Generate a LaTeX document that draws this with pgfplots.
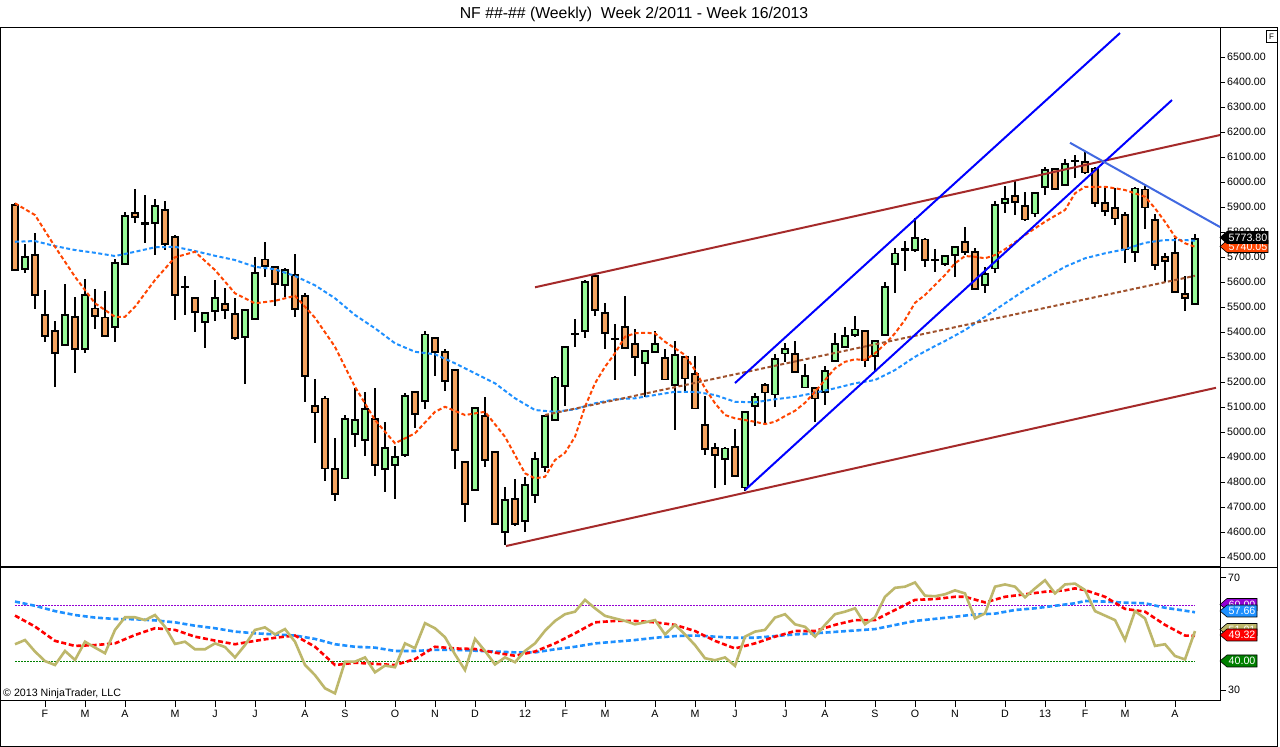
\documentclass[border=0pt]{standalone}
\usepackage{fontspec}
\setmainfont{Liberation Sans}
\usepackage{pgfplots}
\pgfplotsset{compat=1.18}
\usepackage{pgfplotstable}
\definecolor{cgreen}{RGB}{152,251,152}
\definecolor{corange}{RGB}{244,164,96}
\definecolor{maor}{RGB}{255,69,0}
\definecolor{mabl}{RGB}{30,144,255}
\definecolor{trred}{RGB}{165,42,42}
\definecolor{trblue}{RGB}{0,0,255}
\definecolor{trroyal}{RGB}{65,105,225}
\definecolor{csienna}{RGB}{160,82,45}
\definecolor{ckhaki}{RGB}{189,183,107}
\definecolor{cviolet}{RGB}{148,0,211}
\definecolor{dgreen}{RGB}{0,128,0}
\definecolor{rsired}{RGB}{255,0,0}
\newcommand\ticfont{\fontsize{10.67bp}{12bp}\selectfont}

\pgfplotstableread{
i o h l c
0 5909 5916 5645 5649
1 5653 5753 5636 5702
2 5709 5796 5492 5549
3 5469 5569 5362 5386
4 5406 5445 5182 5318
5 5349 5592 5345 5469
6 5462 5542 5238 5333
7 5333 5612 5316 5549
8 5496 5573 5412 5465
9 5460 5565 5380 5386
10 5422 5692 5362 5678
11 5673 5882 5670 5866
12 5878 5973 5838 5862
13 5838 5949 5758 5834
14 5838 5933 5709 5906
15 5890 5925 5729 5753
16 5782 5789 5449 5549
17 5584 5625 5469 5580
18 5538 5540 5402 5481
19 5442 5482 5336 5478
20 5485 5609 5446 5538
21 5514 5576 5454 5489
22 5473 5536 5369 5377
23 5382 5489 5192 5489
24 5453 5700 5453 5638
25 5692 5762 5622 5665
26 5662 5662 5506 5593
27 5589 5656 5542 5649
28 5629 5713 5462 5493
29 5546 5558 5122 5225
30 5106 5213 4958 5080
31 5136 5145 4806 4856
32 4854 4976 4726 4753
33 4816 5069 4816 5054
34 4993 5176 4940 5049
35 4969 5160 4906 5094
36 5054 5176 4826 4869
37 4853 5040 4762 4938
38 4869 4945 4734 4902
39 4909 5156 4900 5146
40 5162 5162 5018 5073
41 5126 5405 5093 5392
42 5378 5378 5225 5321
43 5322 5334 5166 5205
44 5249 5249 4852 4929
45 4882 4882 4640 4713
46 4769 5102 4765 5098
47 5066 5140 4860 4889
48 4921 4921 4633 4633
49 4602 4782 4549 4729
50 4734 4812 4626 4633
51 4646 4822 4602 4789
52 4749 4920 4716 4893
53 4862 5066 4842 5066
54 5049 5226 5045 5220
55 5186 5342 5106 5342
56 5395 5452 5340 5391
57 5406 5609 5376 5602
58 5625 5636 5465 5489
59 5478 5516 5332 5398
60 5376 5432 5209 5372
61 5422 5545 5338 5338
62 5353 5412 5226 5302
63 5278 5326 5140 5326
64 5322 5405 5316 5353
65 5297 5333 5209 5212
66 5189 5366 5009 5309
67 5302 5302 5158 5216
68 5233 5305 5096 5096
69 5029 5146 4909 4934
70 4938 4958 4776 4909
71 4893 4942 4789 4936
72 4942 5012 4825 4825
73 4780 5082 4766 5082
74 5105 5158 5025 5142
75 5189 5196 5038 5160
76 5152 5312 5100 5294
77 5316 5356 5280 5333
78 5313 5366 5236 5242
79 5180 5272 5180 5226
80 5178 5182 5040 5136
81 5162 5266 5109 5245
82 5286 5396 5286 5353
83 5342 5422 5339 5385
84 5389 5465 5380 5412
85 5405 5405 5262 5289
86 5306 5365 5242 5365
87 5389 5602 5389 5582
88 5673 5736 5556 5716
89 5734 5766 5646 5730
90 5729 5856 5722 5778
91 5772 5776 5660 5689
92 5691 5732 5642 5687
93 5673 5705 5665 5705
94 5709 5745 5620 5742
95 5762 5820 5709 5722
96 5722 5736 5573 5573
97 5589 5660 5558 5633
98 5656 5926 5636 5909
99 5918 5985 5876 5933
100 5946 6005 5869 5922
101 5905 5960 5845 5852
102 5876 5958 5860 5958
103 5982 6060 5949 6049
104 6053 6058 5973 5973
105 5989 6093 5989 6073
106 6088 6109 6016 6084
107 6082 6122 6032 6040
108 6056 6062 5902 5918
109 5918 5976 5865 5886
110 5898 5976 5829 5856
111 5869 5882 5678 5732
112 5722 5980 5682 5976
113 5972 5985 5812 5900
114 5849 5872 5649 5669
115 5702 5716 5602 5686
116 5718 5776 5558 5562
117 5553 5625 5486 5538
118 5513 5793 5509 5774
}\candles

\pgfplotstableread{
i v
0 46.3
1 47.8
2 43.7
3 40.3
4 38.9
5 43.9
6 40.7
7 47.2
8 45.1
9 43.1
10 51.4
11 55.9
12 55.9
13 54.9
14 56.7
15 52.5
16 46.4
17 47.2
18 44.5
19 44.5
20 46.6
21 45.3
22 41.6
23 46.0
24 51.4
25 52.3
26 49.8
27 51.7
28 47.2
29 38.9
30 35.3
31 30.6
32 28.8
33 40.1
34 40.1
35 41.6
36 36.3
37 38.7
38 38.1
39 46.6
40 44.9
41 53.8
42 52.0
43 48.8
44 42.7
45 37.1
46 48.2
47 43.9
48 39.1
49 41.6
50 39.9
51 43.9
52 46.6
53 51.1
54 54.6
55 57.0
56 57.9
57 62.1
58 59.1
59 56.4
60 55.5
61 54.6
62 53.4
63 54.1
64 54.9
65 49.8
66 53.2
67 49.8
68 46.0
69 41.3
70 40.6
71 41.6
72 38.6
73 49.0
74 50.8
75 51.4
76 55.8
77 57.0
78 53.4
79 52.5
80 49.0
81 53.2
82 57.0
83 57.9
84 59.1
85 53.4
86 55.9
87 63.2
88 66.4
89 66.8
90 68.3
91 63.6
92 63.4
93 64.1
94 65.5
95 64.4
96 55.5
97 57.3
98 66.8
99 67.6
100 66.8
101 63.0
102 66.2
103 69.1
104 64.4
105 67.6
106 67.9
107 65.6
108 58.1
109 56.5
110 54.9
111 47.8
112 58.1
113 55.5
114 45.7
115 46.3
116 42.1
117 40.9
118 51.0
}\rsi

\pgfplotsset{
  panel/.style={anchor=south west, width=1220bp, scale only axis, xmin=-1.5, xmax=120.5},
  mainpanel/.style={panel, at={(0bp,180bp)}, height=539bp, ymin=4461.2, ymax=6617.2},
  ghost/.style={hide axis},
}

\newcommand\plabel[5]{%
  \filldraw[fill=#1, draw=black, line width=0.6bp] (1220,#2) -- (1227,{#2+6}) -- ({#4},{#2+6}) -- ({#4},{#2-6}) -- (1227,{#2-6}) -- cycle;
  \node[text=#5, font=\ticfont, anchor=west, inner sep=0pt] at (1228.5,#2) {#3};}

\begin{document}
\begin{tikzpicture}[x=1bp,y=1bp]
\path[use as bounding box] (0,0) rectangle (1280,747);
\fill[white] (0,0) rectangle (1280,747);

% main panel: frame, ticks, wicks
\begin{axis}[mainpanel,
  xtick=\empty,
  ytick={4500,4600,...,6500},
  ytick pos=right, yticklabel pos=right,
  tick align=outside, major tick length=5bp,
  tick style={black, line width=0.8bp},
  axis line style={black, line width=1bp},
  yticklabel style={font=\ticfont, anchor=west, inner sep=0pt, xshift=2bp},
  yticklabel={\pgfmathprintnumber[fixed,fixed zerofill,precision=2,1000 sep={},assume math mode=true]{\tick}},
]
\addplot[draw=none, mark=none, forget plot,
  error bars/.cd, y dir=both, y explicit, error mark=none,
  error bar style={draw=black, solid, line width=1.3bp}]
  table[x=i, y expr={(\thisrow{h}+\thisrow{l})/2}, y error expr={(\thisrow{h}-\thisrow{l})/2}] {\candles};
\end{axis}

% candle bodies
\begin{axis}[mainpanel, ghost, ybar stacked, bar width=0.62]
\addplot[draw=none, fill=none] table[x=i, y expr={min(\thisrow{o},\thisrow{c})}] {\candles};
\addplot[draw=black, fill=cgreen, line width=1.5bp] table[x=i, y expr={max(\thisrow{c}-\thisrow{o},0)}] {\candles};
\addplot[draw=black, fill=corange, line width=1.5bp] table[x=i, y expr={max(\thisrow{o}-\thisrow{c},0)}] {\candles};
\end{axis}

% indicators and trend lines
\begin{axis}[mainpanel, ghost]
\addplot[mabl, line width=2bp, dash pattern=on 4bp off 2.5bp] coordinates {
(0,5762) (2,5765) (4,5745) (6,5729) (8,5718) (10,5705) (12,5722) (14,5740) (16,5742) (18,5725) (20,5706) (22,5689) (24,5662) (26,5652) (28,5625) (30,5588) (32,5536) (34,5469) (36,5416) (38,5356) (40,5322) (42,5312) (44,5276) (46,5236) (48,5196) (50,5136) (52,5089) (54,5082) (56,5092) (58,5116) (60,5132) (62,5136) (64,5149) (66,5162) (68,5162) (70,5149) (72,5122) (74,5120) (76,5132) (78,5142) (80,5158) (82,5176) (84,5196) (86,5209) (88,5249) (90,5302) (92,5345) (93,5365) (95,5409) (97,5462) (99,5516) (101,5569) (103,5616) (105,5662) (107,5696) (109,5716) (111,5732) (113,5758) (115,5769) (117,5769) (118,5766)};
\addplot[maor, line width=2bp, dash pattern=on 4bp off 2.5bp] coordinates {
(0,5916) (2,5869) (4,5742) (6,5622) (8,5516) (10,5462) (11,5462) (12,5502) (14,5609) (16,5700) (18,5722) (20,5649) (22,5556) (24,5516) (26,5526) (28,5546) (30,5458) (32,5342) (34,5182) (36,5049) (38,4956) (40,4996) (42,5082) (43,5102) (45,5069) (47,5082) (49,4982) (51,4836) (52,4816) (53,4822) (54,4889) (55,4918) (56,4982) (57,5102) (58,5196) (59,5262) (60,5316) (61,5382) (62,5396) (63,5398) (64,5396) (65,5362) (66,5336) (67,5309) (68,5249) (69,5176) (70,5116) (71,5069) (72,5056) (73,5049) (74,5042) (75,5033) (76,5042) (77,5065) (78,5086) (79,5118) (80,5162) (81,5209) (82,5256) (83,5282) (84,5292) (85,5289) (86,5316) (87,5353) (88,5396) (89,5450) (90,5518) (91,5549) (92,5589) (93,5629) (94,5676) (95,5705) (96,5702) (97,5696) (98,5709) (99,5732) (100,5760) (101,5789) (102,5816) (103,5842) (104,5866) (105,5889) (106,5956) (107,5982) (108,5982) (109,5982) (110,5976) (111,5969) (112,5956) (113,5942) (114,5896) (115,5842) (116,5782) (117,5756) (118,5742)};
\addplot[csienna, line width=2bp, dash pattern=on 4bp off 2.5bp] coordinates {(53,5069) (118,5626)};
\addplot[trred, line width=2bp] coordinates {(52,5580) (120.5,6189)};
\addplot[trred, line width=2bp] coordinates {(49.1,4545) (120.1,5178)};
\addplot[trblue, line width=2bp] coordinates {(73,4769) (115.7,6329)};
\addplot[trblue, line width=2bp] coordinates {(72,5197) (110.5,6597)};
\addplot[trroyal, line width=2bp] coordinates {(105.5,6158) (120.5,5821)};
\end{axis}

% lower panel
\begin{axis}[panel, at={(0bp,46bp)}, height=133bp, ymin=26.08, ymax=73.46,
  ytick={30,70}, ytick pos=right, yticklabel pos=right,
  xtick={3,7,11,16,20,24,29,33,38,42,46,51,55,59,64,68,72,77,81,86,90,94,99,103,107,111,116},
  xticklabels={F,M,A,M,J,J,A,S,O,N,D,12,F,M,A,M,J,J,A,S,O,N,D,13,F,M,A},
  xtick pos=bottom,
  tick align=outside, major tick length=6bp,
  tick style={black, line width=0.8bp},
  axis line style={black, line width=1bp},
  yticklabel style={font=\ticfont, anchor=west, inner sep=0pt, xshift=2bp},
  xticklabel style={font=\ticfont},
  /pgf/number format/assume math mode=true,
]
\addplot[cviolet, line width=1bp, dash pattern=on 2bp off 1bp] coordinates {(0,60) (118,60)};
\addplot[dgreen, line width=1bp, dash pattern=on 2bp off 1bp] coordinates {(0,40) (118,40)};
\addplot[mabl, line width=2.6bp, dash pattern=on 5bp off 2.7bp] coordinates {
(0,61.5) (2,60.0) (4,58.1) (6,56.7) (8,55.8) (10,55.3) (12,55.2) (14,54.8) (16,54.1) (18,52.9) (20,52.0) (22,50.8) (24,50.2) (26,49.8) (28,49.4) (30,48.2) (32,46.3) (34,45.4) (36,45.1) (38,43.9) (40,43.9) (42,44.3) (44,44.3) (46,44.0) (48,43.7) (50,43.4) (52,43.4) (54,44.5) (56,45.4) (58,46.6) (60,47.2) (62,47.8) (64,48.6) (66,49.2) (68,49.4) (70,49.0) (72,48.6) (74,48.6) (76,49.2) (78,49.8) (80,50.2) (86,51.7) (90,54.6) (94,56.1) (96,56.9) (98,57.2) (100,58.5) (102,59.1) (104,60.0) (106,60.9) (107,61.7) (109,61.5) (111,61.1) (113,60.9) (115,59.3) (118,57.7)};
\addplot[rsired, line width=2.6bp, dash pattern=on 5bp off 2.7bp] coordinates {
(0,56.5) (2,52.6) (4,47.5) (6,45.7) (8,46.0) (10,46.6) (12,49.6) (14,52.0) (16,51.4) (18,49.0) (20,47.6) (22,46.3) (24,47.5) (26,48.6) (28,49.4) (30,45.4) (32,38.9) (34,39.7) (36,39.3) (38,38.9) (40,41.0) (42,45.4) (44,44.8) (46,44.6) (48,43.3) (50,42.2) (52,43.7) (54,46.6) (56,50.2) (58,54.1) (60,54.6) (62,54.6) (64,54.1) (66,53.2) (68,51.0) (70,47.5) (72,44.8) (74,46.6) (76,49.0) (78,51.0) (80,51.0) (82,53.2) (84,54.9) (86,54.9) (88,58.5) (90,62.1) (92,62.4) (94,63.2) (95,63.2) (97,61.2) (99,63.2) (101,64.1) (103,65.0) (105,65.5) (106,66.2) (107,65.6) (109,63.2) (111,58.9) (113,57.9) (115,53.2) (117,49.4) (118,49.3)};
\addplot[ckhaki, line width=2.6bp] table[x=i, y=v] {\rsi};
\end{axis}

% frames
\draw[black, line width=1bp] (0.5,719) -- (1277.5,719) -- (1277.5,0.5) -- (0.5,0.5) -- cycle;
\draw[black, line width=1bp] (0,179.5) -- (1277.5,179.5);
\draw[black, line width=0.8bp] (1266,705) rectangle (1277,716.5);
\node[font=\fontsize{8bp}{9bp}\selectfont, inner sep=0pt] at (1271.5,710.7) {F};

% title and copyright
\node[font=\fontsize{15.8bp}{18bp}\selectfont, anchor=base, inner sep=0pt] at (634,728.6) {NF \#\#-\#\# (Weekly)\ \ Week 2/2011 - Week 16/2013};
\node[font=\ticfont, anchor=west, inner sep=0pt] at (3,53) {© 2013 NinjaTrader, LLC};

% price markers
\plabel{maor}{500.5}{5740.05}{1268}{white}
\plabel{black}{509.5}{5773.80}{1268}{white}
\plabel{cviolet}{142.5}{60.00}{1257}{white}
\plabel{mabl}{136}{57.66}{1257}{white}
\plabel{ckhaki}{117.5}{51.01}{1257}{white}
\plabel{rsired}{112}{49.32}{1257}{white}
\plabel{dgreen}{86}{40.00}{1257}{white}
\end{tikzpicture}
\end{document}
